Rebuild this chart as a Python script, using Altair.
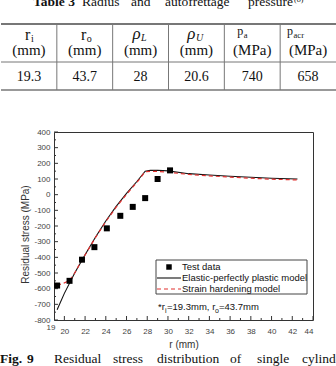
import altair as alt
import pandas as pd

# ---------------- data ----------------
table_cols = ["ri", "ro", "rhoL", "rhoU", "pa", "pacr"]
table_symbol = ["r", "r", "ρ", "ρ", "p", "p"]
table_sub = ["i", "o", "L", "U", "a", "acr"]
table_unit = ["(mm)", "(mm)", "(mm)", "(mm)", "(MPa)", "(MPa)"]
table_value = ["19.3", "43.7", "28", "20.6", "740", "658"]

title_words = ["Table 3", "Radius", "and", "autofrettage", "pressure"]
caption_words = ["Fig.", "9", "Residual", "stress", "distribution", "of", "single", "cylinder"]

test_r = [19.3, 20.5, 21.7, 22.9, 24.1, 25.4, 26.6, 27.8, 29.0, 30.2]
test_sigma = [-580, -550, -415, -335, -215, -135, -78, -22, 100, 155]

epp_r = [19.3, 20, 21, 22, 23, 24, 25, 26, 27, 27.8, 28.3, 29, 30, 32, 34, 36, 38, 40, 42.5]
epp_sigma = [-735, -630, -500, -383, -272, -168, -75, 8, 84, 150, 155, 156, 152, 134, 126, 118, 111, 105, 100]

sh_r = [19.3, 20, 20.5, 21, 21.5, 22, 23, 24, 25, 26, 27, 27.8, 28.3, 29, 30, 32, 34, 36, 38, 40, 42.5]
sh_sigma = [-580, -563, -548, -500, -440, -385, -274, -172, -80, 2, 78, 146, 149, 148, 144, 129, 120, 112, 105, 99, 94]

x_major = list(range(20, 45, 2))
x_minor = list(range(21, 44, 2))
y_major = list(range(-800, 401, 100))
y_minor = list(range(-750, 400, 100))

legend_labels = ["Test data", "Elastic-perfectly plastic model", "Strain hardening model"]

# ---------------- layout ----------------
W, H = 259, 188
LEFT, TOP = 54, 132
SERIF = "Liberation Serif"
SANS = "Liberation Sans"
RED = "#e2302f"

one = pd.DataFrame({"k": [0]})


def vtext(txt, x, y, size, font=SERIF, weight="normal", style="normal",
          align="left", baseline="alphabetic", color="#111"):
    return alt.Chart(one).mark_text(
        text=txt, font=font, fontSize=size, fontWeight=weight, fontStyle=style,
        align=align, baseline=baseline, color=color
    ).encode(x=alt.value(x), y=alt.value(y))


xs = alt.Scale(domain=[19, 44], nice=False, zero=False)
ys = alt.Scale(domain=[-800, 400], nice=False, zero=False)
x_axis = alt.Axis(values=x_major, tickSize=0, domain=False, grid=False,
                  labelFont=SANS, labelFontSize=8, labelColor="#444", labelPadding=7,
                  title="r (mm)", titleFont=SANS, titleFontSize=10, titleFontWeight="normal",
                  titleColor="#333", titleY=24, titleBaseline="middle")
y_axis = alt.Axis(values=y_major, tickSize=0, domain=False, grid=False,
                  labelExpr="toString(datum.value)",
                  labelFont=SANS, labelFontSize=8, labelColor="#444", labelPadding=4,
                  title="Residual stress (MPa)", titleFont=SANS, titleFontSize=10,
                  titleFontWeight="normal", titleColor="#333",
                  titleX=-29, titleY=102, titleBaseline="middle")
X = alt.X("r:Q", scale=xs, axis=x_axis)
Y = alt.Y("sigma:Q", scale=ys, axis=y_axis)

test_df = pd.DataFrame({"r": test_r, "sigma": test_sigma})
epp_df = pd.DataFrame({"r": epp_r, "sigma": epp_sigma})
sh_df = pd.DataFrame({"r": sh_r, "sigma": sh_sigma})

plot_layers = []
# inward ticks
plot_layers.append(alt.Chart(pd.DataFrame({"r": x_major})).mark_rule(color="#333", strokeWidth=1)
                   .encode(x=X, y=alt.value(H), y2=alt.value(H - 4)))
plot_layers.append(alt.Chart(pd.DataFrame({"r": x_minor})).mark_rule(color="#333", strokeWidth=1)
                   .encode(x=X, y=alt.value(H), y2=alt.value(H - 2)))
plot_layers.append(alt.Chart(pd.DataFrame({"sigma": y_major})).mark_rule(color="#333", strokeWidth=1)
                   .encode(y=Y, x=alt.value(0), x2=alt.value(4)))
plot_layers.append(alt.Chart(pd.DataFrame({"sigma": y_minor})).mark_rule(color="#333", strokeWidth=1)
                   .encode(y=Y, x=alt.value(0), x2=alt.value(2)))
# "19" label at the left end of the x axis
plot_layers.append(alt.Chart(pd.DataFrame({"r": [19], "t": ["19"]})).mark_text(
    font=SANS, fontSize=8, color="#444", dx=-3, dy=8, baseline="middle")
    .encode(x=X, y=alt.value(H), text="t:N"))
# data
plot_layers.append(alt.Chart(epp_df).mark_line(color="#111", strokeWidth=1.1).encode(x=X, y=Y))
plot_layers.append(alt.Chart(sh_df).mark_line(color=RED, strokeWidth=1.2, strokeDash=[4, 3]).encode(x=X, y=Y))
plot_layers.append(alt.Chart(test_df).mark_square(size=36, color="#000", opacity=1).encode(x=X, y=Y))

# legend box
plot_layers.append(alt.Chart(one).mark_rect(fill="white", stroke="#444", strokeWidth=1)
                   .encode(x=alt.value(102), x2=alt.value(253), y=alt.value(128), y2=alt.value(162)))
plot_layers.append(alt.Chart(one).mark_square(size=30, color="#000", opacity=1)
                   .encode(x=alt.value(115), y=alt.value(135)))
plot_layers.append(alt.Chart(one).mark_rule(color="#111", strokeWidth=1.1)
                   .encode(x=alt.value(103), x2=alt.value(127), y=alt.value(146)))
plot_layers.append(alt.Chart(one).mark_rule(color=RED, strokeWidth=1.2, strokeDash=[4, 3])
                   .encode(x=alt.value(103), x2=alt.value(127), y=alt.value(157)))
for lab, yy in zip(legend_labels, [135, 146, 157]):
    plot_layers.append(vtext(lab, 128, yy, 9.5, font=SANS, baseline="middle", color="#111"))

# annotation *ri=19.3mm, ro=43.7mm
plot_layers.append(vtext("*r", 104, 178, 9.5, font=SANS, color="#111"))
plot_layers.append(vtext("i", 111, 181, 7, font=SANS, color="#111"))
plot_layers.append(vtext("=19.3mm, r", 113, 178, 9.5, font=SANS, color="#111"))
plot_layers.append(vtext("o", 161, 181, 7, font=SANS, color="#111"))
plot_layers.append(vtext("=43.7mm", 165, 178, 9.5, font=SANS, color="#111"))

# table title (justified words)
title_x = [33, 82, 131, 165, 248]
for i, (w, xx) in enumerate(zip(title_words, title_x)):
    plot_layers.append(vtext(w, xx - LEFT, 6 - TOP, 13.5, weight="bold" if i == 0 else "normal"))
plot_layers.append(vtext("(8)", 294 - LEFT, 2 - TOP, 8))

# figure caption (justified words)
cap_x = [0, 27, 54, 113, 157, 230, 257, 302]
for i, (w, xx) in enumerate(zip(caption_words, cap_x)):
    plot_layers.append(vtext(w, xx - LEFT, 363 - TOP, 13.5, weight="bold" if i < 2 else "normal"))

plot = alt.layer(*plot_layers)

# ---------------- table ----------------
tdf = pd.DataFrame({"col": table_cols, "sym": table_symbol, "sub": table_sub,
                    "unit": table_unit, "val": table_value})
TX = alt.X("col:N", sort=table_cols,
           scale=alt.Scale(domain=table_cols, range=[-53, 282], paddingInner=0, paddingOuter=0),
           axis=None)
TXs = alt.X("col:N", sort=table_cols, bandPosition=0,
            scale=alt.Scale(domain=table_cols, range=[-53, 282], paddingInner=0, paddingOuter=0),
            axis=None)
LINE = "#777"
table_layers = []
table_layers.append(alt.Chart(one).mark_rule(color=LINE, strokeWidth=2)
                    .encode(x=alt.value(-53), x2=alt.value(282), y=alt.value(24 - TOP)))
table_layers.append(alt.Chart(one).mark_rule(color=LINE, strokeWidth=1)
                    .encode(x=alt.value(-53), x2=alt.value(282), y=alt.value(62 - TOP)))
table_layers.append(alt.Chart(one).mark_rule(color=LINE, strokeWidth=1.5)
                    .encode(x=alt.value(-53), x2=alt.value(282), y=alt.value(90 - TOP)))
table_layers.append(alt.Chart(tdf.iloc[1:]).mark_rule(color=LINE, strokeWidth=1)
                    .encode(x=TXs, y=alt.value(24 - TOP), y2=alt.value(90 - TOP)))
table_layers.append(alt.Chart(tdf).mark_text(font=SERIF, fontSize=15, color="#111",
                                             baseline="alphabetic")
                    .encode(x=TX, y=alt.value(55 - TOP), text="unit:N"))
table_layers.append(alt.Chart(tdf).mark_text(font=SERIF, fontSize=14, color="#111",
                                             baseline="alphabetic")
                    .encode(x=TX, y=alt.value(81 - TOP), text="val:N"))

sym_dx = [1.5, 1.5, 0, -1, -9, -15]
sym_size = [16, 16, 17, 17, 12, 12]
sym_style = ["normal", "normal", "italic", "italic", "normal", "normal"]
sym_base = [40, 40, 39, 39, 35, 35]
sub_size = [10, 10, 10, 10, 8.5, 8.5]
sub_style = ["normal", "normal", "italic", "italic", "normal", "normal"]
sub_base = [42, 42, 41, 41, 37.5, 37.5]
for i in range(len(table_cols)):
    row = tdf.iloc[[i]]
    table_layers.append(alt.Chart(row).mark_text(
        font=SERIF, fontSize=sym_size[i], fontStyle=sym_style[i], color="#111",
        align="right", baseline="alphabetic", dx=sym_dx[i])
        .encode(x=TX, y=alt.value(sym_base[i] - TOP), text="sym:N"))
    table_layers.append(alt.Chart(row).mark_text(
        font=SERIF, fontSize=sub_size[i], fontStyle=sub_style[i], color="#111",
        align="left", baseline="alphabetic", dx=sym_dx[i] + 0.5)
        .encode(x=TX, y=alt.value(sub_base[i] - TOP), text="sub:N"))

table = alt.layer(*table_layers)

chart = (
    alt.layer(plot, table)
    .resolve_scale(x="independent")
    .properties(width=W, height=H,
                padding={"left": LEFT, "top": TOP, "right": 336 - LEFT - W, "bottom": 366 - TOP - H},
                autosize=alt.AutoSizeParams(type="none"))
    .configure_view(stroke="#333", strokeWidth=1)
)

chart.save("out.html", embed_options={"renderer": "svg", "actions": False})
